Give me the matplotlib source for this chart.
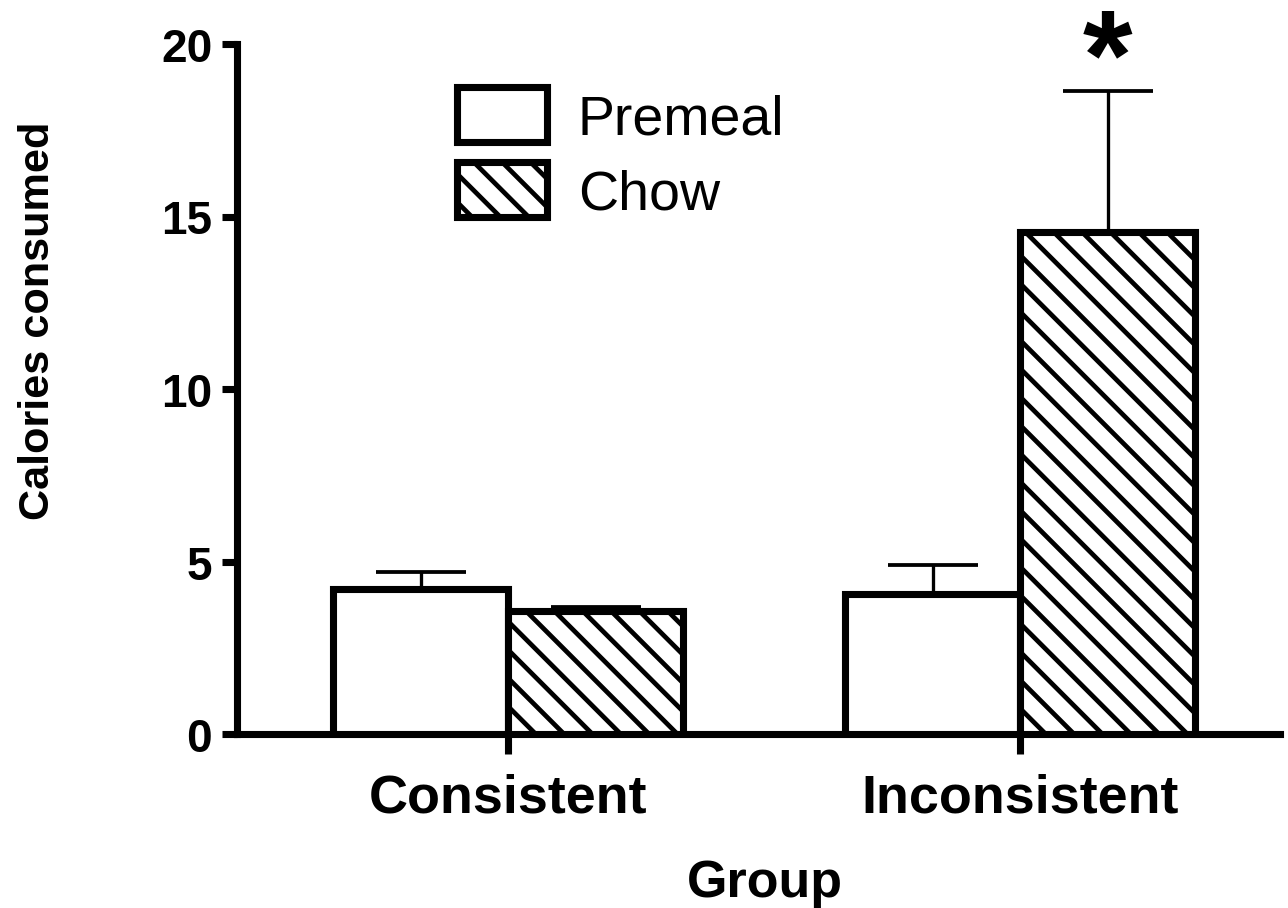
import matplotlib
matplotlib.use("Agg")
import matplotlib.pyplot as plt
import numpy as np

groups = ["Consistent", "Inconsistent"]
series = ["Premeal", "Chow"]
premeal = [4.2, 4.06]
premeal_err = [0.5, 0.84]
chow = [3.57, 14.55]
chow_err = [0.12, 4.1]
y_ticks = [0, 5, 10, 15, 20]

DPI = 170
plt.rcParams["font.family"] = ["Liberation Sans", "DejaVu Sans"]
plt.rcParams["hatch.linewidth"] = 2.0
plt.rcParams["hatch.color"] = "black"

fig = plt.figure(figsize=(1288 / DPI, 909 / DPI), dpi=DPI)
ax = fig.add_axes([237 / 1288, 1 - 735 / 909, (1280 - 237) / 1288, (735 - 45) / 909])

x = np.arange(len(groups))
w = 0.342
ekw = dict(elinewidth=1.4, capthick=1.6)

ax.bar(x - w / 2, premeal, w, color="white", edgecolor="black", linewidth=3,
       label=series[0], zorder=3,
       yerr=[np.zeros(len(premeal)), premeal_err], capsize=19, error_kw=ekw, ecolor="black")
ax.bar(x + w / 2, chow, w, color="white", edgecolor="black", linewidth=3, hatch="\\\\",
       label=series[1], zorder=3,
       yerr=[np.zeros(len(chow)), chow_err], capsize=19, error_kw=ekw, ecolor="black")

# significance marker
ax.text(x[1] + w / 2, chow[1] + chow_err[1] + 0.75, "*", ha="center", va="center",
        fontsize=54, fontweight="bold", clip_on=False)

ax.set_xlim(-0.53, 1.508)
ax.set_ylim(0, 20)
ax.set_yticks(y_ticks)
ax.set_xticks(x)
ax.set_xticklabels(groups, fontsize=22.8, fontweight="bold")
for lab in ax.get_yticklabels():
    lab.set_fontsize(19.5)
    lab.set_fontweight("bold")

for s in ["top", "right"]:
    ax.spines[s].set_visible(False)
for s in ["left", "bottom"]:
    ax.spines[s].set_linewidth(3)
ax.tick_params(axis="y", length=6.5, width=3, pad=4)
ax.tick_params(axis="x", length=8.5, width=3, pad=8)

ax.set_ylabel("Calories consumed", fontsize=18.3, fontweight="bold")
ax.yaxis.set_label_coords(-0.172, 0.60)
ax.set_xlabel("Group", fontsize=22, fontweight="bold")
ax.xaxis.set_label_coords(0.506, -0.18)

leg = ax.legend(loc="upper left", bbox_to_anchor=(457 / 1288, 1 - 88 / 909),
                bbox_transform=fig.transFigure, frameon=False, fontsize=23.5,
                handlelength=1.63, handleheight=1.15, handletextpad=0.55,
                labelspacing=0.3, borderpad=0, borderaxespad=0)

fig.savefig("out.png", dpi=DPI)
